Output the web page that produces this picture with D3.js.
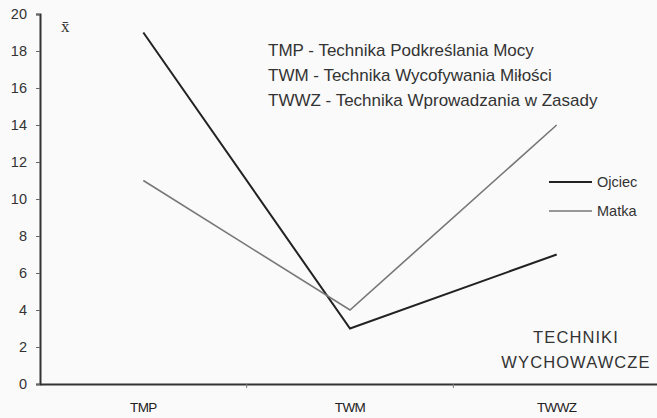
<!DOCTYPE html>
<html><head><meta charset="utf-8">
<script src="https://cdn.jsdelivr.net/npm/d3@7"></script>
<style>body{margin:0;background:#fafafa}svg{display:block}</style>
</head><body>
<svg id="c" width="657" height="418"></svg>
<script>
const categories = ["TMP", "TWM", "TWWZ"];
const seriesNames = ["Ojciec", "Matka"];
const ojciec = [19, 3, 7];
const matka = [11, 4, 14];
const yTicks = [0, 2, 4, 6, 8, 10, 12, 14, 16, 18, 20];
const notes = ["TMP - Technika Podkreślania Mocy", "TWM - Technika Wycofywania Miłości", "TWWZ - Technika Wprowadzania w Zasady"];
const axisTitle = ["TECHNIKI", "WYCHOWAWCZE"];

const svg = d3.select("#c");
const font = "'Liberation Sans', Arial, sans-serif";
const x = d3.scaleBand().domain(categories).range([40, 660]);
const y = d3.scaleLinear().domain([0, 20]).range([384, 14]);

// y axis
const ya = svg.append("g").attr("transform", "translate(40,0)")
  .call(d3.axisLeft(y).tickValues(yTicks).tickSize(4).tickPadding(9));
ya.select(".domain").attr("stroke", "#333").attr("stroke-width", 2);
ya.selectAll(".tick line").attr("stroke", "#666");
ya.selectAll("text").attr("font-family", font).attr("font-size", 14.5).attr("fill", "#333");

// x axis
const xa = svg.append("g").attr("transform", "translate(0,384)")
  .call(d3.axisBottom(x).tickSize(0).tickPadding(18).tickSizeOuter(0));
xa.select(".domain").attr("stroke", "#333").attr("stroke-width", 2);
xa.selectAll("text").attr("font-family", font).attr("font-size", 13.5).attr("fill", "#222").attr("letter-spacing", -0.6);
svg.append("g").selectAll("line").data(categories.slice(1)).join("line")
  .attr("x1", d => x(d)).attr("x2", d => x(d)).attr("y1", 384).attr("y2", 388)
  .attr("stroke", "#777");

// lines
const line = d3.line().x((d, i) => x(categories[i]) + x.bandwidth() / 2).y(d => y(d));
const data = [{name: seriesNames[0], vals: ojciec, color: "#222", w: 2}, {name: seriesNames[1], vals: matka, color: "#777", w: 1.6}];
svg.append("g").selectAll("path").data(data).join("path")
  .attr("d", d => line(d.vals)).attr("fill", "none")
  .attr("stroke", d => d.color).attr("stroke-width", d => d.w);

// legend
const lg = svg.append("g").selectAll("g").data(data).join("g")
  .attr("transform", (d, i) => `translate(549,${182 + i * 29})`);
lg.append("line").attr("x1", 0).attr("x2", 43).attr("stroke", d => d.color).attr("stroke-width", d => d.w);
lg.append("text").attr("x", 48).attr("y", 5).text(d => d.name)
  .attr("font-family", font).attr("font-size", 14.5).attr("fill", "#333");

// notes
svg.append("g").selectAll("text").data(notes).join("text")
  .attr("x", 268).attr("y", (d, i) => 56 + i * 25).text(d => d)
  .attr("font-family", font).attr("font-size", 17).attr("fill", "#333");

svg.append("g").selectAll("text").data(axisTitle).join("text")
  .attr("x", 576).attr("y", (d, i) => 343 + i * 25).attr("text-anchor", "middle").text(d => d)
  .attr("font-family", font).attr("font-size", 16.5).attr("letter-spacing", 1.1).attr("fill", "#333");

svg.append("text").attr("x", 61).attr("y", 32).text("x̄")
  .attr("font-family", "'Liberation Serif', serif").attr("font-size", 17).attr("fill", "#333");
</script>
</body></html>
